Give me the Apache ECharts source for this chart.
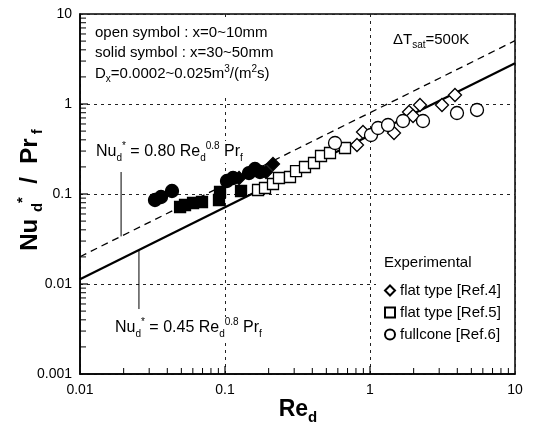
<!DOCTYPE html>
<html><head><meta charset="utf-8">
<script src="https://cdn.jsdelivr.net/npm/echarts@6/dist/echarts.min.js"></script>
<style>html,body{margin:0;padding:0;background:#fff}#c{width:535px;height:437px}</style>
</head><body><div id="c"></div>
<script>
// ---- data ----
const xTickLabels = ['0.01', '0.1', '1', '10'];
const yTickLabels = ['0.001', '0.01', '0.1', '1', '10'];
const xMinorTicks = [0.02,0.03,0.04,0.05,0.06,0.07,0.08,0.09,0.2,0.3,0.4,0.5,0.6,0.7,0.8,0.9,2,3,4,5,6,7,8,9];
const yMinorTicks = [0.002,0.003,0.004,0.005,0.006,0.007,0.008,0.009,0.02,0.03,0.04,0.05,0.06,0.07,0.08,0.09,0.2,0.3,0.4,0.5,0.6,0.7,0.8,0.9,2,3,4,5,6,7,8,9];
const xMajorTicks = [0.1, 1];
const yMajorTicks = [0.01, 0.1, 1];

const solidLine045 = [[0.01, 0.0113], [10, 2.84]];   // Nu*=0.45 Re^0.8 Pr
const dashLine080  = [[0.01, 0.0201], [10, 5.05]];   // Nu*=0.80 Re^0.8 Pr
const leaderUpper  = [[0.0192, 0.1755], [0.0192, 0.0338]];
const leaderLower  = [[0.0255, 0.0239], [0.0255, 0.00527]];

const solidCircles  = [[0.0329,0.0858],[0.0362,0.0926],[0.0431,0.108],[0.1032,0.1395],[0.1136,0.1506],[0.1464,0.171],[0.161,0.1896],[0.1743,0.1755]];
const solidDiamonds = [[0.125,0.1506],[0.1918,0.1755],[0.2143,0.2154]];
const solidSquares  = [[0.049,0.0717],[0.053,0.0755],[0.0602,0.0794],[0.0694,0.0815],[0.0909,0.0858],[0.0924,0.1052],[0.129,0.108]];
const openSquares   = [[0.169,0.1108],[0.1887,0.1166],[0.2143,0.1292],[0.2357,0.1506],[0.2807,0.1545],[0.309,0.18],[0.3562,0.1995],[0.411,0.221],[0.4594,0.2644],[0.53,0.2855],[0.6724,0.3245]];
const openDiamonds  = [[0.8135,0.3504],[0.8947,0.4886],[1.464,0.4763],[1.858,0.815],[1.98,0.7356],[2.212,0.975],[3.137,0.975],[3.856,1.259]];
const openCircles   = [[0.5737,0.3687],[1.016,0.4525],[1.136,0.5412],[1.331,0.5843],[1.689,0.6474],[2.32,0.6474],[3.98,0.794],[5.47,0.858]];

const legendNames = ['flat type [Ref.4]', 'flat type [Ref.5]', 'fullcone [Ref.6]'];

// ---- chart ----
const FONT = 'Liberation Sans, Arial, sans-serif';
const chart = echarts.init(document.getElementById('c'), null, {renderer: 'canvas'});

function rich(size, lh, subSize) {
  const s = subSize || Math.round(size * 0.65);
  return {
    m:   {fontSize: size, lineHeight: lh, verticalAlign: 'middle', fontFamily: FONT, color: '#000'},
    sub: {fontSize: s, lineHeight: lh, verticalAlign: 'bottom', fontFamily: FONT, color: '#000'},
    sup: {fontSize: s, lineHeight: lh, verticalAlign: 'top', fontFamily: FONT, color: '#000'}
  };
}
function richBold(size, lh, subSize) {
  const r = rich(size, lh, subSize);
  Object.keys(r).forEach(k => r[k].fontWeight = 'bold');
  return r;
}

function tickSeries(data, w, h, ox, oy) {
  return {type: 'scatter', data: data, symbol: 'rect', symbolSize: [w, h], symbolOffset: [ox, oy],
    itemStyle: {color: '#000', borderWidth: 0, opacity: 1}, silent: true, clip: false, z: 20};
}
function marker(name, data, symbol, size, filled) {
  return {type: 'scatter', name: name, data: data, symbol: symbol, symbolSize: size, z: 3,
    itemStyle: {color: filled ? '#000' : '#fff', borderColor: '#000', borderWidth: 1.3, opacity: 1}};
}

const option = {
  animation: false,
  backgroundColor: '#fff',
  grid: {left: 80, right: 20, top: 14, bottom: 63, show: true, borderColor: '#000', borderWidth: 1.5, backgroundColor: 'transparent'},
  xAxis: {type: 'log', logBase: 10, min: 0.01, max: 10,
    axisLine: {show: true, lineStyle: {color: '#000', width: 1.5}},
    axisTick: {show: false},
    axisLabel: {color: '#000', fontSize: 14, fontFamily: FONT, margin: 9,
      formatter: (v, i) => xTickLabels[i]},
    splitLine: {show: true, lineStyle: {color: '#222', width: 1, type: [3, 4]}}
  },
  yAxis: {type: 'log', logBase: 10, min: 0.001, max: 10,
    axisLine: {show: true, lineStyle: {color: '#000', width: 1.5}},
    axisTick: {show: false},
    axisLabel: {color: '#000', fontSize: 14, fontFamily: FONT, margin: 8,
      formatter: (v, i) => yTickLabels[i]},
    splitLine: {show: true, lineStyle: {color: '#222', width: 1, type: [3, 4]}}
  },
  legend: {
    data: legendNames, orient: 'vertical', left: 382, top: 281,
    itemWidth: 10, itemHeight: 10, itemGap: 7, padding: [2, 4, 2, 2],
    selectedMode: false, inactiveColor: '#000',
    textStyle: {color: '#000', fontSize: 15, fontFamily: FONT, padding: [0, 0, 0, 0]},
    backgroundColor: 'transparent', z: 60
  },
  series: [
    {type: 'line', data: solidLine045, showSymbol: false, silent: true, lineStyle: {color: '#000', width: 2.2}, z: 2},
    {type: 'line', data: dashLine080, showSymbol: false, silent: true, lineStyle: {color: '#000', width: 1.3, type: [7, 5]}, z: 2},
    {type: 'line', data: leaderUpper, showSymbol: false, silent: true, lineStyle: {color: '#000', width: 1}, z: 2},
    {type: 'line', data: leaderLower, showSymbol: false, silent: true, lineStyle: {color: '#000', width: 1}, z: 2},
    marker('solid circle', solidCircles, 'circle', 13, true),
    marker('solid square', solidSquares, 'rect', 11, true),
    marker('solid diamond', solidDiamonds, 'diamond', 13, true),
    marker(legendNames[1], openSquares, 'rect', 11, false),
    marker(legendNames[0], openDiamonds, 'diamond', 13, false),
    marker(legendNames[2], openCircles, 'circle', 13, false),
    tickSeries(xMinorTicks.map(v => [v, 0.001]), 1, 6, 0, -3),
    tickSeries(xMajorTicks.map(v => [v, 0.001]), 1.2, 8, 0, -4),
    tickSeries(yMinorTicks.map(v => [0.01, v]), 6, 1, 3, 0),
    tickSeries(yMajorTicks.map(v => [0.01, v]), 8, 1.2, 4, 0)
  ],
  graphic: [
    // top-left annotation box
    {type: 'rect', z: 50, shape: {x: 86, y: 18, width: 205, height: 76}, style: {fill: '#fff'}},
    {type: 'text', z: 51, x: 95, y: 33, style: {text: '{m|open symbol : x=0~10mm}', rich: rich(15, 20), align: 'left', verticalAlign: 'middle'}},
    {type: 'text', z: 51, x: 95, y: 53, style: {text: '{m|solid symbol : x=30~50mm}', rich: rich(15, 20), align: 'left', verticalAlign: 'middle'}},
    {type: 'text', z: 51, x: 95, y: 74, style: {text: '{m|D}{sub|x}{m|=0.0002~0.025m}{sup|3}{m|/(m}{sup|2}{m|s)}', rich: rich(15, 20, 10), align: 'left', verticalAlign: 'middle'}},
    {type: 'text', z: 51, x: 393, y: 40, style: {text: '{m|ΔT}{sub|sat}{m|=500K}', rich: rich(15, 20, 10), align: 'left', verticalAlign: 'middle'}},
    // correlation labels
    {type: 'text', z: 51, x: 96, y: 152, style: {text: '{m|Nu}{sub|d}{sup|*}{m| = 0.80 Re}{sub|d}{sup|0.8}{m| Pr}{sub|f}', rich: rich(16, 22, 10), align: 'left', verticalAlign: 'middle', backgroundColor: '#fff'}},
    {type: 'text', z: 51, x: 115, y: 328, style: {text: '{m|Nu}{sub|d}{sup|*}{m| = 0.45 Re}{sub|d}{sup|0.8}{m| Pr}{sub|f}', rich: rich(16, 22, 10), align: 'left', verticalAlign: 'middle', backgroundColor: '#fff'}},
    // legend box
    {type: 'rect', z: 50, shape: {x: 376, y: 252, width: 136, height: 98}, style: {fill: '#fff'}},
    {type: 'text', z: 61, x: 384, y: 263, style: {text: '{m|Experimental}', rich: rich(15, 20), align: 'left', verticalAlign: 'middle'}},
    // axis titles
    {type: 'text', z: 51, x: 298, y: 410, style: {text: '{m|Re}{sub|d}', rich: richBold(23, 30, 15), align: 'center', verticalAlign: 'middle'}},
    {type: 'text', z: 51, x: 30, y: 190, rotation: Math.PI / 2, style: {text: '{m|Nu }{sub|d}{sup|*}{m|  /  Pr}{sub| f}', rich: richBold(24, 30, 15), align: 'center', verticalAlign: 'middle'}}
  ]
};
chart.setOption(option);
</script></body></html>
